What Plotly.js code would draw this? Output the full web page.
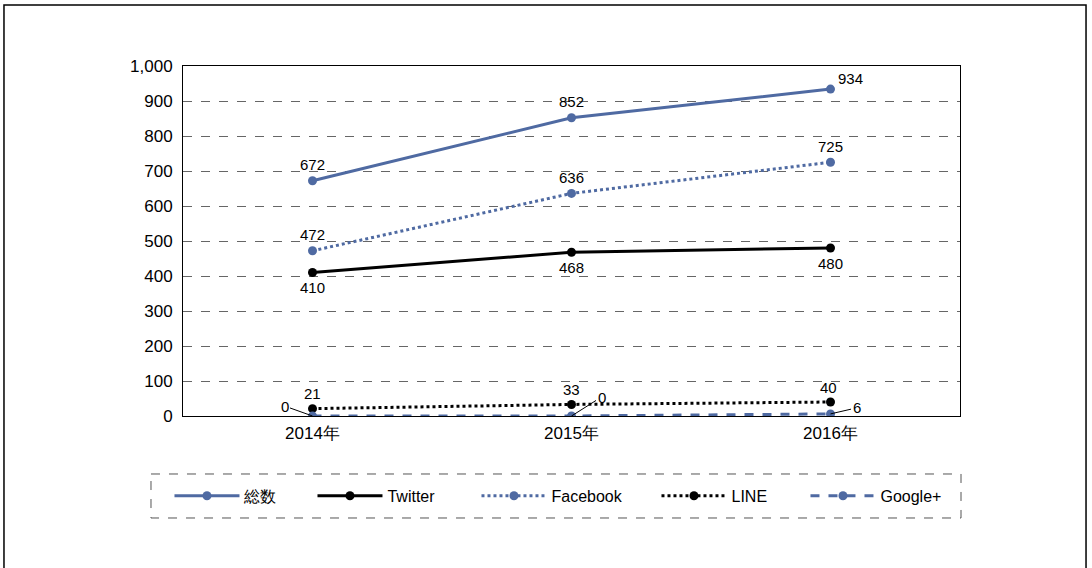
<!DOCTYPE html>
<html>
<head>
<meta charset="utf-8">
<script src="https://cdn.plot.ly/plotly-3.0.1.min.js"></script>
<style>html,body{margin:0;padding:0;background:#fff;}#chart{width:1092px;height:568px;}</style>
</head>
<body>
<div id="chart"></div>
<script>
const years = ["2014年", "2015年", "2016年"];
const total = [672, 852, 934];
const twitter = [410, 468, 480];
const facebook = [472, 636, 725];
const line = [21, 33, 40];
const google = [0, 0, 6];
const yTicks = [0, 100, 200, 300, 400, 500, 600, 700, 800, 900, 1000];
const yTickText = ["0", "100", "200", "300", "400", "500", "600", "700", "800", "900", "1,000"];

const BLUE = "#4f6aa2";
const FONT = "Liberation Sans, Arial, sans-serif";

const traces = [
  {name: "総数", x: years, y: total, mode: "lines+markers", legendwidth: 63,
   line: {color: BLUE, width: 3}, marker: {color: BLUE, size: 9}},
  {name: "Twitter", x: years, y: twitter, mode: "lines+markers", legendwidth: 84,
   line: {color: "#000", width: 3}, marker: {color: "#000", size: 9}},
  {name: "Facebook", x: years, y: facebook, mode: "lines+markers", legendwidth: 100,
   line: {color: BLUE, width: 3, dash: "dot"}, marker: {color: BLUE, size: 9}},
  {name: "LINE", x: years, y: line, mode: "lines+markers", legendwidth: 69,
   line: {color: "#000", width: 3, dash: "dot"}, marker: {color: "#000", size: 9}},
  {name: "Google+", x: years, y: google, mode: "lines+markers", legendwidth: 80,
   line: {color: BLUE, width: 3, dash: "dash"}, marker: {color: BLUE, size: 9}}
];

const annotations = [];
function lab(series, shifts) {
  series.forEach((v, i) => {
    annotations.push({x: years[i], y: v, text: String(v), showarrow: false,
      xshift: shifts[i][0], yshift: shifts[i][1],
      font: {family: FONT, size: 15, color: "#000"}});
  });
}
lab(total, [[0, 16], [0, 16], [20, 11]]);
lab(facebook, [[0, 16], [0, 16], [0, 16]]);
lab(twitter, [[0, -15], [0, -15], [0, -15]]);
lab(line, [[0, 15], [0, 15], [-2, 15]]);
// Google+ labels with leader lines
const gOff = [[-28, -10], [30, -19], [26, -6]];
google.forEach((v, i) => {
  annotations.push({x: years[i], y: v, text: String(v), showarrow: true,
    arrowhead: 0, arrowwidth: 1, arrowcolor: "#000", ax: gOff[i][0], ay: gOff[i][1],
    standoff: 0, startstandoff: 0,
    font: {family: FONT, size: 15, color: "#000"}});
});

const layout = {
  width: 1092, height: 568,
  margin: {l: 183, r: 132, t: 66, b: 152},
  paper_bgcolor: "#fff", plot_bgcolor: "#fff",
  font: {family: FONT, size: 16, color: "#000"},
  showlegend: true,
  legend: {orientation: "h", x: -0.0174, xanchor: "left", y: -0.228, yanchor: "middle",
    font: {family: FONT, size: 16, color: "#000"}, bgcolor: "rgba(0,0,0,0)",
    traceorder: "normal", itemwidth: 65},
  xaxis: {type: "category", range: [-0.5, 2.5], showgrid: false, zeroline: false,
    showline: true, linecolor: "#000", linewidth: 1, mirror: true,
    ticks: "", ticklabelstandoff: 2, tickfont: {family: FONT, size: 17, color: "#000"}},
  yaxis: {range: [0, 1000], tickvals: yTicks, ticktext: yTickText,
    showgrid: true, gridcolor: "#666", griddash: "dash", gridwidth: 1,
    zeroline: false, showline: true, linecolor: "#000", linewidth: 1, mirror: true,
    ticks: "", ticklen: 0, ticklabelstandoff: 6, tickfont: {family: FONT, size: 17, color: "#000"}},
  annotations: annotations,
  shapes: [
    {type: "rect", xref: "paper", yref: "paper",
     x0: -0.0412, x1: 1.0013, y0: -0.1657, y1: -0.2914,
     line: {color: "#555", width: 1, dash: "dash"}},
    {type: "rect", xref: "paper", yref: "paper",
     x0: -0.2304, x1: 1.1622, y0: 1.1743, y1: -0.45,
     line: {color: "#000", width: 1.5}}
  ]
};

Plotly.newPlot("chart", traces, layout, {displayModeBar: false, staticPlot: true});
</script>
</body>
</html>
